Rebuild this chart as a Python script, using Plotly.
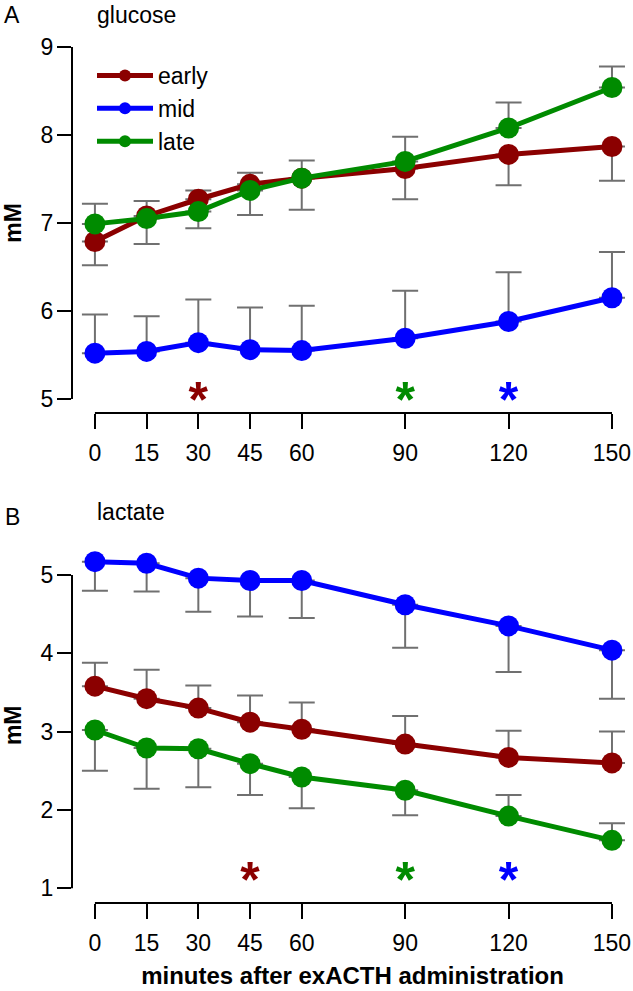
import plotly.graph_objects as go

# ---------------- data ----------------
minutes = [0, 15, 30, 45, 60, 90, 120, 150]
x_ticks = [0, 15, 30, 45, 60, 90, 120, 150]
glu_ticks = [5, 6, 7, 8, 9]
lac_ticks = [1, 2, 3, 4, 5]

glu_early = [6.79, 7.08, 7.27, 7.44, 7.51, 7.62, 7.78, 7.87]
glu_mid = [5.52, 5.54, 5.64, 5.56, 5.55, 5.69, 5.88, 6.15]
glu_late = [6.99, 7.05, 7.13, 7.37, 7.51, 7.70, 8.08, 8.54]
glu_early_err_minus = [0.27, 0.32, 0.33, 0.35, 0.36, 0.35, 0.35, 0.39]
glu_mid_err_plus = [0.44, 0.40, 0.49, 0.48, 0.51, 0.54, 0.56, 0.52]
glu_late_err_plus = [0.23, 0.20, 0.24, 0.20, 0.20, 0.28, 0.29, 0.24]

lac_early = [3.58, 3.42, 3.30, 3.12, 3.03, 2.84, 2.67, 2.60]
lac_mid = [5.17, 5.15, 4.96, 4.93, 4.93, 4.62, 4.35, 4.04]
lac_late = [3.02, 2.79, 2.78, 2.59, 2.42, 2.25, 1.92, 1.61]
lac_early_err_plus = [0.30, 0.37, 0.29, 0.34, 0.34, 0.36, 0.34, 0.40]
lac_mid_err_minus = [0.37, 0.36, 0.43, 0.46, 0.48, 0.55, 0.59, 0.62]
lac_late_err_minus = [0.52, 0.52, 0.49, 0.40, 0.40, 0.32, 0.0, 0.0]
lac_late_err_plus = [0.0, 0.0, 0.0, 0.0, 0.0, 0.0, 0.27, 0.22]

# significance stars (time, group)
glu_star_t = [30, 90, 120]
glu_star_group = ["early", "late", "mid"]
lac_star_t = [45, 90, 120]
lac_star_group = ["early", "late", "mid"]
glu_star_level = 4.94
lac_star_level = 1.045

groups = ["early", "mid", "late"]
colors = {"early": "#8B0000", "mid": "#0000FF", "late": "#008B00"}

# ---------------- styling ----------------
W, H = 633, 991
FONT = "Liberation Sans, Arial, sans-serif"
FS = 23
ERR_COLOR = "#707070"
x_range = [-6.65, 156.1]
glu_range = [4.84, 9.16]
lac_range = [0.81, 5.35]

def pdom(top_px, bot_px):
    return [1 - bot_px / H, 1 - top_px / H]

fig = go.Figure()

def err_trace(x, y, plus, minus, xa, ya):
    return go.Scatter(
        x=x, y=y, xaxis=xa, yaxis=ya, mode="markers",
        marker=dict(size=1, color="rgba(0,0,0,0)"),
        error_y=dict(type="data", symmetric=False, array=plus, arrayminus=minus,
                     color=ERR_COLOR, thickness=2, width=13),
        showlegend=False, hoverinfo="skip",
    )

zeros = [0] * len(minutes)
# error bars first (beneath lines/markers)
fig.add_trace(err_trace(minutes, glu_early, zeros, glu_early_err_minus, "x", "y"))
fig.add_trace(err_trace(minutes, glu_mid, glu_mid_err_plus, zeros, "x", "y"))
fig.add_trace(err_trace(minutes, glu_late, glu_late_err_plus, zeros, "x", "y"))
fig.add_trace(err_trace(minutes, lac_early, lac_early_err_plus, zeros, "x2", "y2"))
fig.add_trace(err_trace(minutes, lac_mid, zeros, lac_mid_err_minus, "x2", "y2"))
fig.add_trace(err_trace(minutes, lac_late, lac_late_err_plus, lac_late_err_minus, "x2", "y2"))

glu = {"early": glu_early, "mid": glu_mid, "late": glu_late}
lac = {"early": lac_early, "mid": lac_mid, "late": lac_late}

for g in groups:
    fig.add_trace(go.Scatter(
        x=minutes, y=glu[g], xaxis="x", yaxis="y", mode="lines+markers", name=g,
        line=dict(color=colors[g], width=5),
        marker=dict(color=colors[g], size=21), cliponaxis=False, legendgroup=g,
    ))
for g in groups:
    fig.add_trace(go.Scatter(
        x=minutes, y=lac[g], xaxis="x2", yaxis="y2", mode="lines+markers", name=g,
        line=dict(color=colors[g], width=5),
        marker=dict(color=colors[g], size=21), cliponaxis=False, showlegend=False,
    ))

# stars
for xs, grp, lvl, xa, ya in [(glu_star_t, glu_star_group, glu_star_level, "x", "y"),
                             (lac_star_t, lac_star_group, lac_star_level, "x2", "y2")]:
    fig.add_trace(go.Scatter(
        x=xs, y=[lvl] * len(xs), xaxis=xa, yaxis=ya,
        mode="text", text=["*"] * len(xs), textposition="middle center",
        textfont=dict(family=FONT, size=50, color=[colors[g] for g in grp], weight="bold"),
        showlegend=False, hoverinfo="skip", cliponaxis=False,
    ))

X_DOM = [72 / W, 1]
xcommon = dict(domain=X_DOM, range=x_range, showline=False, showgrid=False, zeroline=False,
               tickmode="array", tickvals=x_ticks, ticktext=[str(v) for v in x_ticks],
               ticks="outside", ticklen=15, tickwidth=2, tickcolor="black",
               tickfont=dict(family=FONT, size=FS, color="black"), ticklabelstandoff=4,
               automargin=False)
ycommon = dict(showline=False, showgrid=False, zeroline=False,
               ticks="outside", ticklen=14, tickwidth=2, tickcolor="black",
               tickfont=dict(family=FONT, size=FS, color="black"), ticklabelstandoff=-1,
               automargin=False)

fig.update_layout(
    width=W, height=H,
    margin=dict(l=0, r=0, t=0, b=0),
    paper_bgcolor="white", plot_bgcolor="white",
    font=dict(family=FONT, size=FS, color="black"),
    xaxis=dict(anchor="y", **xcommon),
    yaxis=dict(domain=pdom(33, 413), anchor="x", range=glu_range,
               tickvals=glu_ticks, ticktext=[str(v) for v in glu_ticks],
               title=dict(text="<b>mM</b>", standoff=17, font=dict(family=FONT, size=FS)),
               **ycommon),
    xaxis2=dict(anchor="y2",
                title=dict(text="<b>minutes after exACTH administration</b>", standoff=12,
                           font=dict(family=FONT, size=24)),
                **xcommon),
    yaxis2=dict(domain=pdom(547.6, 903), anchor="x2", range=lac_range,
                tickvals=lac_ticks, ticktext=[str(v) for v in lac_ticks],
                title=dict(text="<b>mM</b>", standoff=17, font=dict(family=FONT, size=FS)),
                **ycommon),
    legend=dict(x=92 / W, y=1 - 54 / H, xanchor="left", yanchor="top",
                bgcolor="rgba(0,0,0,0)", borderwidth=0, itemsizing="constant",
                itemwidth=56, font=dict(family=FONT, size=FS), tracegroupgap=0),
    showlegend=True,
)

# axis lines (R style: only over tick range)
for xa, ya, yt in [("x", "y", glu_ticks), ("x2", "y2", lac_ticks)]:
    fig.add_shape(type="line", xref=xa, yref=ya + " domain", x0=x_ticks[0], x1=x_ticks[-1],
                  y0=0, y1=0, line=dict(color="black", width=2))
    fig.add_shape(type="line", xref=xa + " domain", yref=ya, x0=0, x1=0,
                  y0=yt[0], y1=yt[-1], line=dict(color="black", width=2))

# panel labels
for txt, xp, yp, anchor in [("A", 12, 15, "center"), ("glucose", 95, 15, "left"),
                            ("B", 12, 517, "center"), ("lactate", 95, 512, "left")]:
    fig.add_annotation(text=txt, x=xp / W, y=1 - yp / H, xref="paper", yref="paper",
                       xanchor=anchor, yanchor="middle", showarrow=False,
                       font=dict(family=FONT, size=FS, color="black"))

fig.write_html("out.html", config={"displayModeBar": False},
               post_script="document.body.style.margin='0px';document.body.style.overflow='hidden';")
